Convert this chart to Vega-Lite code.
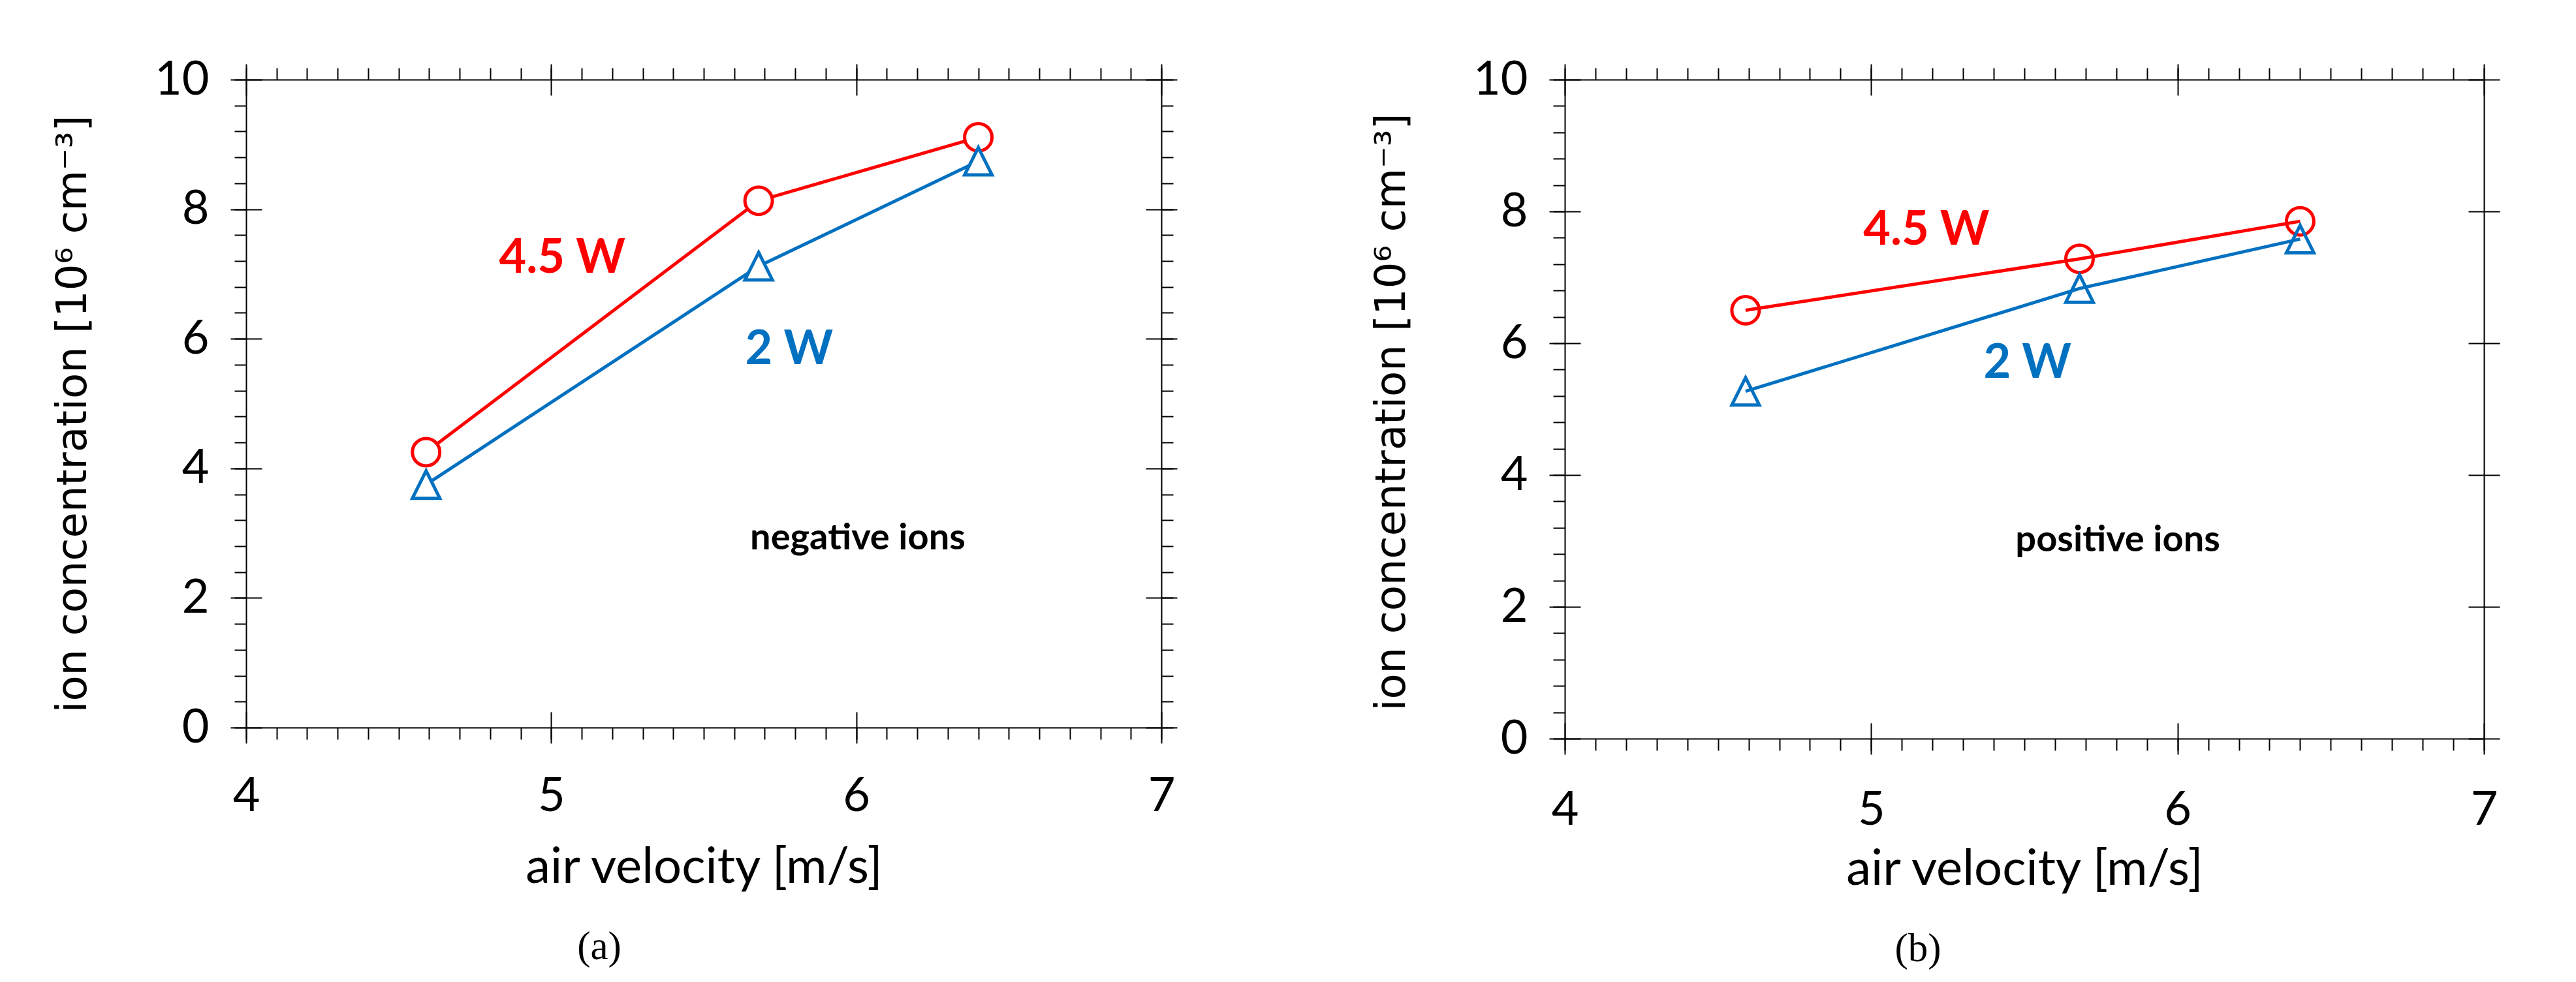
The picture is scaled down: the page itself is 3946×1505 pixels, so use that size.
{
  "$schema": "https://vega.github.io/schema/vega-lite/v6.json",
  "background": "white",
  "padding": {"left": 80, "top": 86, "right": 10, "bottom": 10},
  "spacing": 296,
  "datasets": {
    "neg": [
      {"power": "4.5 W", "v": 4.59, "c": 4.25},
      {"power": "4.5 W", "v": 5.68, "c": 8.13},
      {"power": "4.5 W", "v": 6.40, "c": 9.11},
      {"power": "2 W", "v": 4.59, "c": 3.75},
      {"power": "2 W", "v": 5.68, "c": 7.12},
      {"power": "2 W", "v": 6.40, "c": 8.74}
    ],
    "pos": [
      {"power": "4.5 W", "v": 4.59, "c": 6.50},
      {"power": "4.5 W", "v": 5.68, "c": 7.28},
      {"power": "4.5 W", "v": 6.40, "c": 7.85},
      {"power": "2 W", "v": 4.59, "c": 5.27},
      {"power": "2 W", "v": 5.68, "c": 6.83},
      {"power": "2 W", "v": 6.40, "c": 7.58}
    ],
    "negLab": [
      {"power": "4.5 W", "v": 5.036, "c": 7.02},
      {"power": "2 W", "v": 5.78, "c": 5.61}
    ],
    "posLab": [
      {"power": "4.5 W", "v": 5.18, "c": 7.50},
      {"power": "2 W", "v": 5.51, "c": 5.48}
    ],
    "negNote": [{"label": "negative ions", "v": 6.005, "c": 2.75}],
    "posNote": [{"label": "positive ions", "v": 5.805, "c": 2.84}]
  },
  "hconcat": [
    {
      "width": 1402,
      "height": 993,
      "title": {"text": "(a)", "orient": "bottom", "frame": "group", "anchor": "middle", "dx": -160, "offset": 55, "font": "Liberation Serif", "fontSize": 61, "fontWeight": "normal", "color": "black"},
      "layer": [
        {
          "data": {"name": "neg"},
          "mark": {"type": "line", "strokeWidth": 5},
          "encoding": {
            "x": {"field": "v", "type": "quantitative", "scale": {"domain": [4, 7], "nice": false, "zero": false},
              "axis": {"orient": "bottom", "values": [4,4.1,4.2,4.3,4.4,4.5,4.6,4.7,4.8,4.9,5,5.1,5.2,5.3,5.4,5.5,5.6,5.7,5.8,5.9,6,6.1,6.2,6.3,6.4,6.5,6.6,6.7,6.8,6.9,7],
                "tickSize": 18, "labelPadding": 52,
                "labelExpr": "abs(datum.value - round(datum.value)) < 0.001 ? format(datum.value, 'd') : ''",
                "title": "air velocity [m/s]", "titleFont": "Lato", "titleFontSize": 76, "titleFontWeight": "normal", "titlePadding": 36}},
            "y": {"field": "c", "type": "quantitative", "scale": {"domain": [0, 10], "nice": false, "zero": false},
              "axis": {"orient": "left", "values": [0,0.4,0.8,1.2,1.6,2,2.4,2.8,3.2,3.6,4,4.4,4.8,5.2,5.6,6,6.4,6.8,7.2,7.6,8,8.4,8.8,9.2,9.6,10],
                "tickSize": 18, "labelPadding": 39,
                "labelExpr": "abs(datum.value / 2 - round(datum.value / 2)) < 0.001 ? format(datum.value, 'd') : ''",
                "title": "ion concentration [10⁶ cm⁻³]", "titleFont": "DejaVu Sans", "titleFontSize": 64, "titleFontWeight": "normal", "titlePadding": 92, "titleY": 512}},
            "color": {"field": "power", "type": "nominal", "scale": {"domain": ["4.5 W", "2 W"], "range": ["#FF0000", "#0070C0"]}, "legend": null}
          }
        },
        {
          "data": {"name": "neg"},
          "mark": {"type": "point", "fill": "white", "strokeWidth": 5, "opacity": 1, "size": 1764},
          "encoding": {
            "x": {"field": "v", "type": "quantitative",
              "axis": {"orient": "top", "values": [4,4.1,4.2,4.3,4.4,4.5,4.6,4.7,4.8,4.9,5,5.1,5.2,5.3,5.4,5.5,5.6,5.7,5.8,5.9,6,6.1,6.2,6.3,6.4,6.5,6.6,6.7,6.8,6.9,7], "tickSize": 18, "labels": false, "title": null}},
            "y": {"field": "c", "type": "quantitative",
              "axis": {"orient": "right", "values": [0,0.4,0.8,1.2,1.6,2,2.4,2.8,3.2,3.6,4,4.4,4.8,5.2,5.6,6,6.4,6.8,7.2,7.6,8,8.4,8.8,9.2,9.6,10], "tickSize": 18, "labels": false, "title": null}},
            "stroke": {"field": "power", "type": "nominal", "scale": {"domain": ["4.5 W", "2 W"], "range": ["#FF0000", "#0070C0"]}, "legend": null},
            "shape": {"field": "power", "type": "nominal", "scale": {"domain": ["4.5 W", "2 W"], "range": ["circle", "M0,-1L1,1L-1,1Z"]}, "legend": null}
          }
        },
        {
          "data": {"name": "negLab"},
          "mark": {"type": "text", "font": "Lato", "fontWeight": "bold", "fontSize": 72, "align": "center", "baseline": "alphabetic"},
          "encoding": {
            "x": {"field": "v", "type": "quantitative",
              "axis": {"orient": "bottom", "values": [4, 5, 6, 7], "tickSize": 48, "offset": -24, "domain": false, "labels": false, "title": null}},
            "y": {"field": "c", "type": "quantitative",
              "axis": {"orient": "left", "values": [0, 2, 4, 6, 8, 10], "tickSize": 48, "offset": -24, "domain": false, "labels": false, "title": null}},
            "text": {"field": "power", "type": "nominal"},
            "color": {"field": "power", "type": "nominal", "scale": {"domain": ["4.5 W", "2 W"], "range": ["#FF0000", "#0070C0"]}, "legend": null}
          }
        },
        {
          "data": {"name": "negNote"},
          "mark": {"type": "text", "font": "Lato", "fontWeight": "bold", "fontSize": 56, "align": "center", "baseline": "alphabetic", "color": "black"},
          "encoding": {
            "x": {"field": "v", "type": "quantitative",
              "axis": {"orient": "top", "values": [4, 5, 6, 7], "tickSize": 48, "offset": -24, "domain": false, "labels": false, "title": null}},
            "y": {"field": "c", "type": "quantitative",
              "axis": {"orient": "right", "values": [0, 2, 4, 6, 8, 10], "tickSize": 48, "offset": -24, "domain": false, "labels": false, "title": null}},
            "text": {"field": "label", "type": "nominal"}
          }
        }
      ],
      "resolve": {"axis": {"x": "independent", "y": "independent"}}
    },
    {
      "width": 1408,
      "height": 1010,
      "title": {"text": "(b)", "orient": "bottom", "frame": "group", "anchor": "middle", "dx": -163, "offset": 55, "font": "Liberation Serif", "fontSize": 61, "fontWeight": "normal", "color": "black"},
      "layer": [
        {
          "data": {"name": "pos"},
          "mark": {"type": "line", "strokeWidth": 5},
          "encoding": {
            "x": {"field": "v", "type": "quantitative", "scale": {"domain": [4, 7], "nice": false, "zero": false},
              "axis": {"orient": "bottom", "values": [4,4.1,4.2,4.3,4.4,4.5,4.6,4.7,4.8,4.9,5,5.1,5.2,5.3,5.4,5.5,5.6,5.7,5.8,5.9,6,6.1,6.2,6.3,6.4,6.5,6.6,6.7,6.8,6.9,7],
                "tickSize": 18, "labelPadding": 56,
                "labelExpr": "abs(datum.value - round(datum.value)) < 0.001 ? format(datum.value, 'd') : ''",
                "title": "air velocity [m/s]", "titleFont": "Lato", "titleFontSize": 76, "titleFontWeight": "normal", "titlePadding": 18}},
            "y": {"field": "c", "type": "quantitative", "scale": {"domain": [0, 10], "nice": false, "zero": false},
              "axis": {"orient": "left", "values": [0,0.4,0.8,1.2,1.6,2,2.4,2.8,3.2,3.6,4,4.4,4.8,5.2,5.6,6,6.4,6.8,7.2,7.6,8,8.4,8.8,9.2,9.6,10],
                "tickSize": 18, "labelPadding": 39,
                "labelExpr": "abs(datum.value / 2 - round(datum.value / 2)) < 0.001 ? format(datum.value, 'd') : ''",
                "title": "ion concentration [10⁶ cm⁻³]", "titleFont": "DejaVu Sans", "titleFontSize": 64, "titleFontWeight": "normal", "titlePadding": 92, "titleY": 509}},
            "color": {"field": "power", "type": "nominal", "scale": {"domain": ["4.5 W", "2 W"], "range": ["#FF0000", "#0070C0"]}, "legend": null}
          }
        },
        {
          "data": {"name": "pos"},
          "mark": {"type": "point", "strokeWidth": 5, "opacity": 1, "size": 1764},
          "encoding": {
            "x": {"field": "v", "type": "quantitative",
              "axis": {"orient": "top", "values": [4,4.1,4.2,4.3,4.4,4.5,4.6,4.7,4.8,4.9,5,5.1,5.2,5.3,5.4,5.5,5.6,5.7,5.8,5.9,6,6.1,6.2,6.3,6.4,6.5,6.6,6.7,6.8,6.9,7], "tickSize": 18, "labels": false, "title": null}},
            "y": {"field": "c", "type": "quantitative",
              "axis": {"orient": "right", "ticks": false, "labels": false, "title": null}},
            "stroke": {"field": "power", "type": "nominal", "scale": {"domain": ["4.5 W", "2 W"], "range": ["#FF0000", "#0070C0"]}, "legend": null},
            "shape": {"field": "power", "type": "nominal", "scale": {"domain": ["4.5 W", "2 W"], "range": ["circle", "M0,-1L1,1L-1,1Z"]}, "legend": null}
          }
        },
        {
          "data": {"name": "posLab"},
          "mark": {"type": "text", "font": "Lato", "fontWeight": "bold", "fontSize": 72, "align": "center", "baseline": "alphabetic"},
          "encoding": {
            "x": {"field": "v", "type": "quantitative",
              "axis": {"orient": "bottom", "values": [4, 5, 6, 7], "tickSize": 48, "offset": -24, "domain": false, "labels": false, "title": null}},
            "y": {"field": "c", "type": "quantitative",
              "axis": {"orient": "left", "values": [0, 2, 4, 6, 8, 10], "tickSize": 48, "offset": -24, "domain": false, "labels": false, "title": null}},
            "text": {"field": "power", "type": "nominal"},
            "color": {"field": "power", "type": "nominal", "scale": {"domain": ["4.5 W", "2 W"], "range": ["#FF0000", "#0070C0"]}, "legend": null}
          }
        },
        {
          "data": {"name": "posNote"},
          "mark": {"type": "text", "font": "Lato", "fontWeight": "bold", "fontSize": 56, "align": "center", "baseline": "alphabetic", "color": "black"},
          "encoding": {
            "x": {"field": "v", "type": "quantitative",
              "axis": {"orient": "top", "values": [4, 5, 6, 7], "tickSize": 48, "offset": -24, "domain": false, "labels": false, "title": null}},
            "y": {"field": "c", "type": "quantitative",
              "axis": {"orient": "right", "values": [0, 2, 4, 6, 8, 10], "tickSize": 48, "offset": -24, "domain": false, "labels": false, "title": null}},
            "text": {"field": "label", "type": "nominal"}
          }
        }
      ],
      "resolve": {"axis": {"x": "independent", "y": "independent"}}
    }
  ],
  "config": {
    "view": {"stroke": null},
    "axis": {
      "grid": false,
      "domainColor": "black", "domainWidth": 2,
      "tickColor": "black", "tickWidth": 2,
      "labelColor": "black", "titleColor": "black",
      "labelFont": "Lato", "labelFontSize": 72,
      "labelOverlap": false, "labelFlush": false, "labelBound": false
    }
  }
}
